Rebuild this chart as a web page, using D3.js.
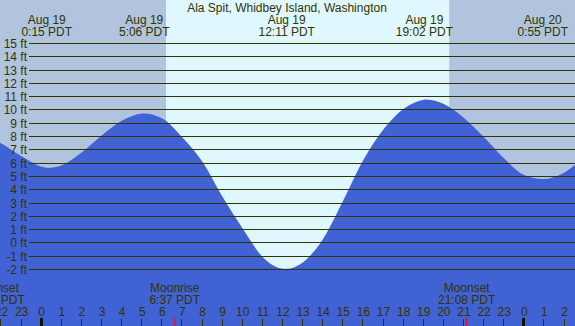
<!DOCTYPE html>
<html>
	<head>
		<title>Ala Spit tide</title>
		<style>
			body { margin: 0; background: #fff; }
			svg { display: block; }
			text { font-family: "Liberation Sans", Arial, sans-serif; font-size: 12px; fill: #333300; }
		</style>
	</head>
	<body>
		<script src = "https://d3js.org/d3.v7.min.js"></script>
		<div id = "chart"></div>
	</body>
</html>

<script>
	// station name
	var title = "Ala Spit, Whidbey Island, Washington";

	// tide heights (hours from Aug 19 0:00, feet)
	var tideHours = [-3, -2, -1, 0, 0.25, 1, 2, 3, 4, 5, 5.1, 6, 7, 8, 9, 10, 11, 12, 12.183,
		13, 14, 15, 16, 17, 18, 19, 19.033, 20, 21, 22, 23, 24, 24.917, 26, 27];
	var tideFeet = [8.25, 7.48, 6.51, 5.72, 5.65, 5.85, 6.82, 8.1, 9.2, 9.73, 9.74, 9.35, 7.93, 6.08, 3.45, 1.07, -1.08, -1.94, -1.95,
		-1.45, 0.32, 3.2, 6.25, 8.55, 10.1, 10.77, 10.78, 10.45, 9.4, 7.95, 6.35, 5.1, 4.8, 5.3, 6.5];

	// highs and lows (minutes from Aug 19 0:00)
	var extremeMinutes = [15, 306, 731, 1142, 1495];

	// sun and moon (minutes from Aug 19 0:00)
	var sunrise = 371;
	var sunset = 1216;
	var moonMinutes = [-136, 397, 1268];
	var moonNames = ["Moonset", "Moonrise", "Moonset"];

	// axis ticks
	var feetTicks = [-2, -1, 0, 1, 2, 3, 4, 5, 6, 7, 8, 9, 10, 11, 12, 13, 14, 15];
	var hourTicks = d3.range(-2, 27);

	var w = 575;
	var h = 326;

	var svg = d3.select("#chart")
				.append("svg")
				.attr("width", w)
				.attr("height", h);

	var x = d3.scaleLinear().domain([0, 24]).range([41.7, 524.3]);
	var y = d3.scaleLinear().domain([-2, 15]).range([269.5, 43.5]);
	function py(v) { return Math.round(y(v) - 0.5) + 0.5; }

	function clock(m) {
		var mm = ((m % 1440) + 1440) % 1440;
		var hh = Math.floor(mm / 60);
		var mi = mm % 60;
		return hh + ":" + (mi < 10 ? "0" : "") + mi + " PDT";
	}

	// night / day background
	svg.append("rect")
		.attr("x", 0).attr("y", 0)
		.attr("width", w).attr("height", h)
		.style("fill", "#b0c4de");
	svg.append("rect")
		.attr("x", x(sunrise / 60)).attr("y", 0)
		.attr("width", x(sunset / 60) - x(sunrise / 60)).attr("height", h)
		.style("fill", "#dff7ff");

	// water
	var area = d3.area()
		.x(function(d, i) { return x(tideHours[i]); })
		.y0(h)
		.y1(function(d) { return y(d); })
		.curve(d3.curveMonotoneX);
	svg.append("path")
		.datum(tideFeet)
		.attr("d", area)
		.style("fill", "#4062d4");

	// grid lines and labels
	svg.selectAll("line.grid")
		.data(feetTicks)
		.enter()
		.append("line")
		.attr("class", "grid")
		.attr("x1", 29).attr("x2", w)
		.attr("y1", function(d) { return py(d); })
		.attr("y2", function(d) { return py(d); })
		.style("stroke", "#333300")
		.style("stroke-width", 1);
	svg.selectAll("text.ft")
		.data(feetTicks)
		.enter()
		.append("text")
		.attr("class", "ft")
		.attr("x", 27)
		.attr("y", function(d) { return py(d) + 4.5; })
		.attr("text-anchor", "end")
		.text(function(d) { return d + " ft"; });

	// title
	svg.append("text")
		.attr("x", 287)
		.attr("y", 12)
		.attr("text-anchor", "middle")
		.text(title);

	// high / low labels
	var ext = svg.selectAll("g.ext")
		.data(extremeMinutes)
		.enter()
		.append("g")
		.attr("class", "ext")
		.attr("transform", function(d) { return "translate(" + x(d / 60) + ",0)"; });
	ext.append("text")
		.attr("y", 24)
		.attr("text-anchor", "middle")
		.text(function(d) { return d < 1440 ? "Aug 19" : "Aug 20"; });
	ext.append("text")
		.attr("y", 36)
		.attr("text-anchor", "middle")
		.text(function(d) { return clock(d); });

	// moon labels
	var moon = svg.selectAll("g.moon")
		.data(moonMinutes)
		.enter()
		.append("g")
		.attr("class", "moon")
		.attr("transform", function(d) { return "translate(" + x(d / 60) + ",0)"; });
	moon.append("text")
		.attr("y", 291.5)
		.attr("text-anchor", "middle")
		.text(function(d, i) { return moonNames[i]; });
	moon.append("text")
		.attr("y", 303.5)
		.attr("text-anchor", "middle")
		.text(function(d) { return clock(d); });
	moon.append("rect")
		.attr("x", -0.5).attr("y", 318)
		.attr("width", 1).attr("height", 8)
		.style("fill", "#ff0000");

	// hour ticks
	svg.selectAll("text.hr")
		.data(hourTicks)
		.enter()
		.append("text")
		.attr("class", "hr")
		.attr("x", function(d) { return x(d); })
		.attr("y", 315.5)
		.attr("text-anchor", "middle")
		.text(function(d) { return ((d % 24) + 24) % 24; });
	svg.selectAll("rect.tick")
		.data(hourTicks)
		.enter()
		.append("rect")
		.attr("class", "tick")
		.attr("x", function(d) { return d % 24 == 0 ? Math.round(x(d)) - 2 : Math.round(x(d)) - 1; })
		.attr("y", function(d) { return d % 24 == 0 ? 318 : 319; })
		.attr("width", function(d) { return d % 24 == 0 ? 3 : 1; })
		.attr("height", 8)
		.style("fill", function(d) { return d % 24 == 0 ? "#111100" : "#333300"; });
</script>
